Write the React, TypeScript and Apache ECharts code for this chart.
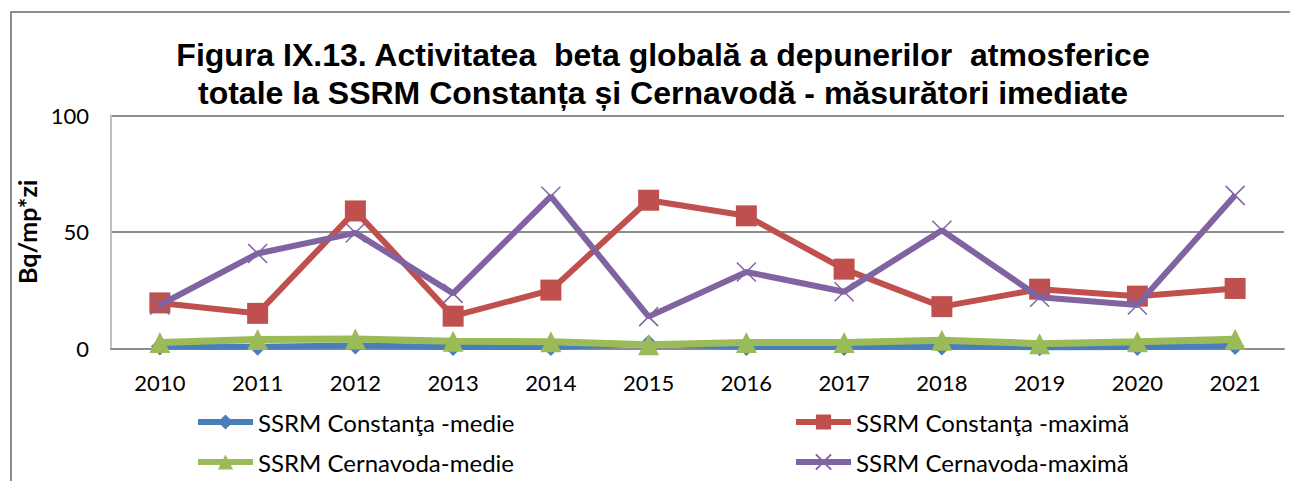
import React, { useEffect, useRef } from "react";
import * as echarts from "echarts";

const years = ["2010", "2011", "2012", "2013", "2014", "2015", "2016", "2017", "2018", "2019", "2020", "2021"];
const constantaMedie = [0.8, 0.7, 1.2, 0.6, 0.6, 2.0, 0.6, 0.6, 0.8, 0.5, 0.6, 1.0];
const constantaMaxima = [19.5, 15, 59, 13.8, 25, 63.6, 56.9, 34, 17.9, 25.4, 22.4, 25.7];
const cernavodaMedie = [2.5, 3.8, 4.0, 3.0, 2.8, 1.5, 2.5, 2.5, 3.5, 2.0, 2.8, 3.9];
const cernavodaMaxima = [18.6, 40.7, 49.6, 23.6, 65.3, 13.6, 32.8, 24.3, 50.7, 21.9, 18.6, 65.7];
const seriesNames = [
  "SSRM Constanţa -medie",
  "SSRM Constanţa -maximă",
  "SSRM Cernavoda-medie",
  "SSRM Cernavoda-maximă",
];
const titleText = "Figura IX.13. Activitatea  beta globală a depunerilor  atmosferice\ntotale la SSRM Constanța și Cernavodă - măsurători imediate";

const crossPath = "path://M0,0 L10,10 M10,0 L0,10";
const font = "Lato, 'Open Sans', sans-serif";

export default function App() {
  const ref = useRef<HTMLDivElement>(null);
  useEffect(() => {
    if (!ref.current) return;
    const chart = echarts.init(ref.current, undefined, { renderer: "svg" });
    const legendPos = [
      { left: 193, top: 408 },
      { left: 791, top: 408 },
      { left: 193, top: 448 },
      { left: 791, top: 448 },
    ];
    chart.setOption({
      animation: false,
      backgroundColor: "#fff",
      title: {
        text: titleText,
        left: 658,
        textAlign: "center",
        top: 31,
        textStyle: {
          fontFamily: "Arial, 'Liberation Sans', sans-serif",
          fontWeight: "bold",
          fontSize: 32,
          lineHeight: 38,
          color: "#000",
        },
      },
      graphic: [
        {
          type: "polyline",
          shape: { points: [[11, 481], [11, 12], [1290, 12]] },
          style: { stroke: "#8c8c8c", lineWidth: 2, fill: "none" },
        },
      ],
      legend: seriesNames.map((n, i) => ({
        data: [n],
        left: legendPos[i].left,
        top: legendPos[i].top,
        itemWidth: 55,
        itemHeight: 19,
        itemGap: 0,
        padding: 2,
        lineStyle: { width: 6 },
        textStyle: { fontFamily: font, fontSize: 24, color: "#000" },
      })),
      grid: { left: 111, right: 6, top: 115.5, bottom: 132.7 },
      xAxis: {
        type: "category",
        data: years,
        boundaryGap: true,
        axisLine: { show: true, lineStyle: { color: "#8c8c8c", width: 2 } },
        axisTick: { show: false },
        axisLabel: { fontFamily: font, fontSize: 22, color: "#000", margin: 23 },
      },
      yAxis: {
        type: "value",
        min: 0,
        max: 100,
        interval: 50,
        name: "Bq/mp*zi",
        nameLocation: "middle",
        nameGap: 66,
        nameTextStyle: { fontFamily: font, fontWeight: "bold", fontSize: 25, color: "#000" },
        axisLine: { show: true, lineStyle: { color: "#c0c0c0", width: 2 } },
        axisTick: { show: false },
        axisLabel: { fontFamily: font, fontSize: 22, color: "#000", margin: 22 },
        splitLine: { show: true, lineStyle: { color: "#8c8c8c", width: 2 } },
      },
      series: [
        {
          name: seriesNames[0],
          type: "line",
          data: constantaMedie,
          symbol: "diamond",
          symbolSize: 18,
          lineStyle: { color: "#4a7ebb", width: 6 },
          itemStyle: { color: "#4a7ebb" },
          z: 2,
        },
        {
          name: seriesNames[1],
          type: "line",
          data: constantaMaxima,
          symbol: "rect",
          symbolSize: 21,
          lineStyle: { color: "#c0504d", width: 6 },
          itemStyle: { color: "#c0504d" },
          z: 3,
        },
        {
          name: seriesNames[2],
          type: "line",
          data: cernavodaMedie,
          symbol: "triangle",
          symbolSize: 21,
          lineStyle: { color: "#9bbb59", width: 7 },
          itemStyle: { color: "#9bbb59" },
          z: 4,
        },
        {
          name: seriesNames[3],
          type: "line",
          data: cernavodaMaxima,
          symbol: crossPath,
          symbolSize: 19,
          lineStyle: { color: "#8064a2", width: 6 },
          itemStyle: { color: "#8064a2", borderColor: "#8064a2", borderWidth: 1.5 },
          z: 5,
        },
      ],
    });
    return () => chart.dispose();
  }, []);
  return (
    <div
      ref={ref}
      style={{ position: "absolute", left: 0, top: 0, width: 1290, height: 481 }}
    />
  );
}
